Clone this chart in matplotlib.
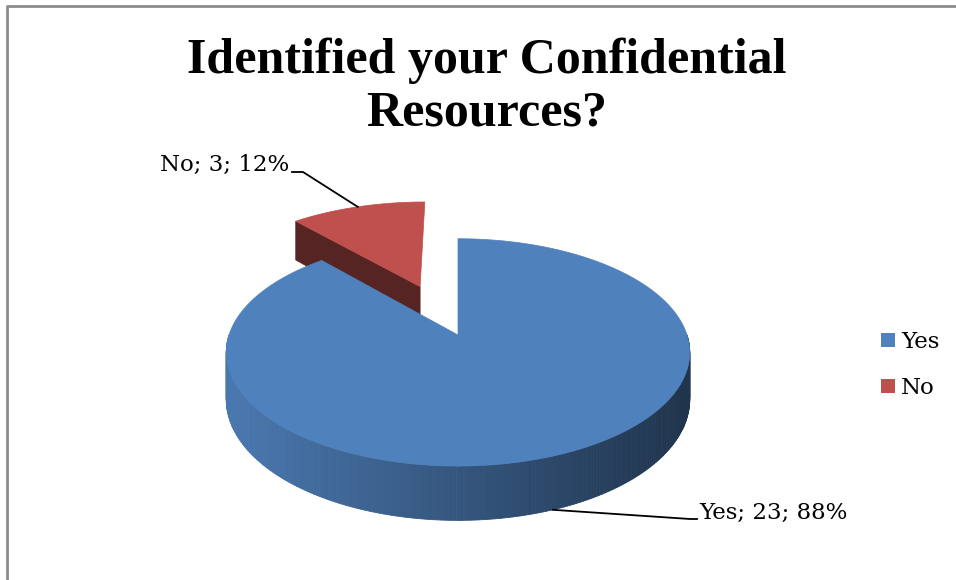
import numpy as np
import matplotlib
matplotlib.use("Agg")
import matplotlib.pyplot as plt
from matplotlib.patches import Polygon, Rectangle
from matplotlib.colors import to_rgb

# ---- data ----
labels = ["Yes", "No"]
values = [23, 3]
top_colors = ["#4f81bd", "#c0504d"]
explode = [0.0, 0.5]
title = "Identified your Confidential\nResources?"

# ---- layout (pixel space, y down) ----
CX, CY = 458, 335
RX, RY = 229, 111.0
K = 0.153
DEPTH = 46
SERIF = ["Liberation Serif", "DejaVu Serif"]
LABEL_FONT = ["DejaVu Serif"]


def proj(u, v, h=0.0):
    w = 1 + K * v
    return CX + RX * u / w, CY - RY * v / w + DEPTH * h / w


def shade(c, f):
    r, g, b = to_rgb(c)
    return (r * f, g * f, b * f)


fig = plt.figure(figsize=(9.56, 5.80), dpi=100)
ax = fig.add_axes([0, 0, 1, 1])
ax.set_xlim(0, 956)
ax.set_ylim(580, 0)
ax.axis("off")

# border (partially cropped frame)
ax.plot([7, 7, 956], [580, 6, 6], color="#8c8c8c", lw=2.0, solid_capstyle="butt", zorder=1)

total = float(sum(values))
start = 90.0
slices = []
cum = 0.0
for lab, val, col, ex in zip(labels, values, top_colors, explode):
    span = 360.0 * val / total
    a1 = start - cum
    a0 = a1 - span
    cum += span
    mid = np.radians((a0 + a1) / 2)
    ox, oy = ex * np.cos(mid), ex * np.sin(mid)
    slices.append(dict(label=lab, val=val, col=col, a0=a0, a1=a1, ox=ox, oy=oy, mid=mid))

# draw far slices first
order = sorted(range(len(slices)), key=lambda i: -np.sin(slices[i]["mid"]))
z = 2
for i in order:
    s = slices[i]
    a0, a1, ox, oy, col = s["a0"], s["a1"], s["ox"], s["oy"], s["col"]
    # radial faces
    for a, nrm in ((a0, a0 - 90), (a1, a1 + 90)):
        if np.sin(np.radians(nrm)) < -0.05:
            r = np.radians(a)
            p1 = proj(ox, oy, 0)
            p2 = proj(ox + np.cos(r), oy + np.sin(r), 0)
            p3 = proj(ox + np.cos(r), oy + np.sin(r), 1)
            p4 = proj(ox, oy, 1)
            ax.add_patch(Polygon([p1, p2, p3, p4], closed=True, fc=shade(col, 0.45),
                                 ec=shade(col, 0.45), lw=0.5, zorder=z))
            z += 1
    # outer side (front half)
    lo, hi = max(a0, -180.0), min(a1, 0.0)
    if hi > lo:
        ts = np.radians(np.linspace(lo, hi, 220))
        for t0, t1 in zip(ts[:-1], ts[1:]):
            q = [proj(ox + np.cos(t0), oy + np.sin(t0), 0), proj(ox + np.cos(t1), oy + np.sin(t1), 0),
                 proj(ox + np.cos(t1), oy + np.sin(t1), 1), proj(ox + np.cos(t0), oy + np.sin(t0), 1)]
            xm = (q[0][0] + q[1][0]) / 2
            frac = np.clip((xm - (CX - RX)) / (2 * RX), 0, 1)
            f = 0.93 - 0.53 * frac
            c = shade(col, f)
            ax.add_patch(Polygon(q, closed=True, fc=c, ec=c, lw=0.6, zorder=z))
        z += 1
    # top face
    ts = np.radians(np.linspace(a0, a1, 300))
    pts = [proj(ox, oy, 0)] + [proj(ox + np.cos(t), oy + np.sin(t), 0) for t in ts]
    ax.add_patch(Polygon(pts, closed=True, fc=col, ec=col, lw=0.5, zorder=z))
    z += 1

# data labels with leader lines
pcts = [round(100 * v / total) for v in values]
for s, p in zip(slices, pcts):
    txt = f"{s['label']}; {s['val']}; {p}%"
    m = s["mid"]
    if np.sin(m) > 0:
        ax_, ay_ = proj(s["ox"] + np.cos(m), s["oy"] + np.sin(m), 0)
        ax.plot([ax_, 303, 292], [ay_, 172, 172], color="black", lw=1.3, zorder=z)
        ax.text(289, 171, txt, ha="right", va="baseline", fontsize=16.5, family=LABEL_FONT, zorder=z)
    else:
        ax_, ay_ = proj(s["ox"] + np.cos(m), s["oy"] + np.sin(m), 1)
        ax.plot([ax_, 690, 697], [ay_, 519, 519], color="black", lw=1.3, zorder=z)
        ax.text(699, 519, txt, ha="left", va="baseline", fontsize=16.5, family=LABEL_FONT, zorder=z)

# legend
for k, s in enumerate(slices):
    y0 = 333 + 46 * k
    ax.add_patch(Rectangle((881, y0), 14, 14, fc=s["col"], ec="none", zorder=z))
    ax.text(901, y0 + 15, s["label"], ha="left", va="baseline", fontsize=16.5, family=LABEL_FONT, zorder=z)

# title
ax.text(487, 87, title, ha="center", va="center", fontsize=36, fontweight="bold",
        family=SERIF, linespacing=1.16, zorder=z)

fig.savefig("out.png", dpi=100)
